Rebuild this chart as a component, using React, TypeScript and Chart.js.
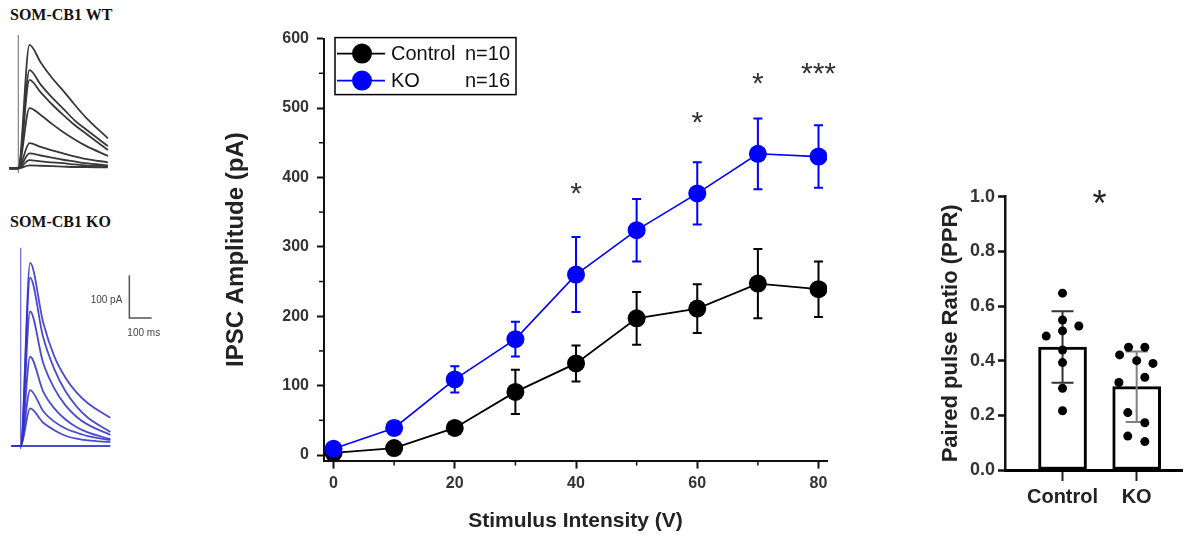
import React, { useEffect, useRef } from 'react';
import { Chart, registerables } from 'chart.js';

Chart.register(...registerables);

const FONT = '"Liberation Sans", Arial, Helvetica, sans-serif';

// ---------- Input/output curve (IPSC amplitude) ----------
const stimulus = [0, 10, 20, 30, 40, 50, 60, 70, 80];
const controlMean = [3, 10, 39, 91, 132, 197, 211, 247, 239];
const controlSem = [3, 6, 8, 32, 26, 38, 35, 50, 40];
const koMean = [9, 39, 109, 167, 260, 324, 377, 434, 430];
const koSem = [5, 10, 19, 25, 54, 45, 45, 51, 45];
const seriesNames = ['Control', 'KO'];
const seriesN = ['n=10', 'n=16'];
const amplitudeTicks = [0, 100, 200, 300, 400, 500, 600];
const stimulusTicks = [0, 20, 40, 60, 80];
const starX = [40, 60, 70, 80];
const starY = [383, 485, 541, 556];
const starText = ['*', '*', '*', '***'];

// ---------- Paired pulse ratio ----------
const groupLabels = ['Control', 'KO'];
const pprMean = [0.45, 0.305];
const pprSd = [0.131, 0.129];
const pprTicks = [0, 0.2, 0.4, 0.6, 0.8, 1.0];
const pprControlDots = [0.647, 0.549, 0.527, 0.509, 0.49, 0.439, 0.393, 0.299, 0.217];
const pprControlJitter = [0, 0, 0.22, 0, -0.22, 0, 0, 0, 0];
const pprKoDots = [0.421, 0.449, 0.449, 0.4, 0.39, 0.32, 0.339, 0.21, 0.173, 0.124, 0.104];
const pprKoJitter = [-0.23, -0.11, 0.11, 0, 0.22, -0.24, 0.11, -0.12, 0.11, -0.12, 0.11];
const pprStar = '*';

// ---------- Example traces (time in ms, current in pA) ----------
const wtTimes = [-40, 0, 50, 100, 150, 200, 250, 300, 400];
const wtTraces = [
  [0, 0, 289, 248, 212, 182, 150, 120, 70],
  [0, 0, 230, 196, 166, 140, 113, 92, 52],
  [0, 0, 207, 178, 150, 125, 102, 82, 43],
  [0, 0, 141, 125, 104, 85, 68, 53, 29],
  [0, 0, 59, 50, 42, 35, 28, 22, 14],
  [0, 0, 35, 30, 25, 20, 16, 12, 7],
  [0, 0, 19, 16, 14, 12, 9, 7, 5],
  [0, 0, 7, 6, 5, 4, 3, 3, 2],
];
const wtArtifact = [-11, 312];
const koTimes = [-40, 0, 42, 100, 150, 200, 250, 300, 400];
const koTraces = [
  [0, 0, 429, 290, 210, 160, 125, 100, 66],
  [0, 0, 394, 255, 180, 128, 92, 66, 33],
  [0, 0, 315, 195, 135, 95, 68, 50, 26],
  [0, 0, 209, 128, 88, 62, 44, 32, 16],
  [0, 0, 131, 82, 57, 41, 31, 23, 14],
  [0, 0, 88, 55, 37, 24, 17, 13, 9],
  [0, 0, 0, 0, 0, 0, 0, 0, 0],
];
const koArtifact = [-7, 464];
const scaleBarOrigin = [485, 300]; // [ms, pA]
const scaleBarSize = [100, 100]; // [ms, pA]
const scaleBarLabels = ['100 pA', '100 ms'];

type TraceProps = {
  left: number; top: number; width: number; height: number;
  xRange: number[]; yRange: number[];
  times: number[]; traces: number[][]; artifact: number[];
  color: string; artifactColor: string; scaleBar?: boolean;
};

function TraceChart(p: TraceProps) {
  const ref = useRef<HTMLCanvasElement>(null);
  useEffect(() => {
    const datasets: any[] = p.traces.map((tr) => ({
      data: p.times.map((t, i) => ({ x: t, y: tr[i] })),
      borderColor: p.color,
      borderWidth: 1.8,
      pointRadius: 0,
      cubicInterpolationMode: 'monotone',
      fill: false,
    }));
    datasets.push({
      data: [{ x: 0, y: p.artifact[0] }, { x: 0, y: p.artifact[1] }],
      borderColor: p.artifactColor,
      borderWidth: 1.1,
      pointRadius: 0,
      fill: false,
    });
    const scaleBarPlugin = {
      id: 'scaleBar',
      afterDraw(chart: any) {
        if (!p.scaleBar) return;
        const { ctx } = chart;
        const xs = chart.scales.x, ys = chart.scales.y;
        const x0 = xs.getPixelForValue(scaleBarOrigin[0]);
        const x1 = xs.getPixelForValue(scaleBarOrigin[0] + scaleBarSize[0]);
        const y0 = ys.getPixelForValue(scaleBarOrigin[1]);
        const y1 = ys.getPixelForValue(scaleBarOrigin[1] + scaleBarSize[1]);
        ctx.save();
        ctx.strokeStyle = '#555';
        ctx.lineWidth = 1.5;
        ctx.beginPath();
        ctx.moveTo(x0, y1);
        ctx.lineTo(x0, y0);
        ctx.lineTo(x1, y0);
        ctx.stroke();
        ctx.fillStyle = '#444';
        ctx.font = `10px ${FONT}`;
        ctx.textBaseline = 'middle';
        ctx.textAlign = 'right';
        ctx.fillText(scaleBarLabels[0], x0 - 7, (y0 + y1) / 2 + 4);
        ctx.textAlign = 'left';
        ctx.fillText(scaleBarLabels[1], x0 - 2, y0 + 15);
        ctx.restore();
      },
    };
    const chart = new Chart(ref.current!, {
      type: 'line',
      data: { datasets },
      options: {
        animation: false,
        responsive: false,
        layout: { padding: 0 },
        plugins: { legend: { display: false }, tooltip: { enabled: false } },
        scales: {
          x: { type: 'linear', display: false, min: p.xRange[0], max: p.xRange[1] },
          y: { type: 'linear', display: false, min: p.yRange[0], max: p.yRange[1] },
        },
      } as any,
      plugins: [scaleBarPlugin],
    });
    return () => chart.destroy();
  }, []);
  return (
    <canvas
      ref={ref}
      width={p.width}
      height={p.height}
      style={{ position: 'absolute', left: p.left, top: p.top, width: p.width, height: p.height }}
    />
  );
}

function AmplitudeChart() {
  const ref = useRef<HTMLCanvasElement>(null);
  useEffect(() => {
    const semArrays = [controlSem, koSem];
    const errorBars = {
      id: 'errorBars',
      beforeDatasetsDraw(chart: any) {
        const { ctx } = chart;
        const xs = chart.scales.x, ys = chart.scales.y;
        chart.data.datasets.forEach((ds: any, i: number) => {
          const means = i === 0 ? controlMean : koMean;
          const sems = semArrays[i];
          ctx.save();
          ctx.strokeStyle = ds.borderColor;
          ctx.lineWidth = 2;
          stimulus.forEach((s, j) => {
            const x = xs.getPixelForValue(s);
            const yt = ys.getPixelForValue(means[j] + sems[j]);
            const yb = ys.getPixelForValue(means[j] - sems[j]);
            ctx.beginPath();
            ctx.moveTo(x, yt); ctx.lineTo(x, yb);
            ctx.moveTo(x - 4.5, yt); ctx.lineTo(x + 4.5, yt);
            ctx.moveTo(x - 4.5, yb); ctx.lineTo(x + 4.5, yb);
            ctx.stroke();
          });
          ctx.restore();
        });
      },
    };
    const extras = {
      id: 'extras',
      afterDraw(chart: any) {
        const { ctx, chartArea: ca } = chart;
        const xs = chart.scales.x, ys = chart.scales.y;
        ctx.save();
        // minor ticks
        ctx.strokeStyle = '#111';
        ctx.lineWidth = 1.5;
        for (let k = 0; k < xs.ticks.length - 1; k++) {
          const px = xs.getPixelForValue((xs.ticks[k].value + xs.ticks[k + 1].value) / 2);
          ctx.beginPath(); ctx.moveTo(px, ca.bottom); ctx.lineTo(px, ca.bottom + 5); ctx.stroke();
        }
        for (let k = 0; k < ys.ticks.length - 1; k++) {
          const py = ys.getPixelForValue((ys.ticks[k].value + ys.ticks[k + 1].value) / 2);
          ctx.beginPath(); ctx.moveTo(ca.left - 5, py); ctx.lineTo(ca.left, py); ctx.stroke();
        }
        // significance stars
        ctx.fillStyle = '#333';
        const fs = 30;
        ctx.font = `${fs}px ${FONT}`;
        ctx.textAlign = 'center';
        ctx.textBaseline = 'alphabetic';
        starX.forEach((sx, i) => {
          ctx.fillText(starText[i], xs.getPixelForValue(sx), ys.getPixelForValue(starY[i]) + 0.45 * fs);
        });
        // legend
        const bx = ca.left + 11, by = ca.top - 1, bw = 181, bh = 57;
        ctx.strokeStyle = '#000';
        ctx.lineWidth = 1.5;
        ctx.strokeRect(bx, by, bw, bh);
        chart.data.datasets.forEach((ds: any, i: number) => {
          const ry = by + 16 + i * 27;
          ctx.strokeStyle = ds.borderColor;
          ctx.lineWidth = 1.8;
          ctx.beginPath(); ctx.moveTo(bx + 2, ry); ctx.lineTo(bx + 50, ry); ctx.stroke();
          ctx.fillStyle = ds.backgroundColor;
          ctx.beginPath(); ctx.arc(bx + 27, ry, 10, 0, Math.PI * 2); ctx.fill();
          ctx.fillStyle = '#111';
          ctx.font = `20px ${FONT}`;
          ctx.textAlign = 'left';
          ctx.textBaseline = 'middle';
          ctx.fillText(seriesNames[i], bx + 56, ry + 1);
          ctx.fillText(seriesN[i], bx + 130, ry + 1);
        });
        ctx.restore();
      },
    };
    const chart = new Chart(ref.current!, {
      type: 'line',
      data: {
        datasets: [
          {
            label: seriesNames[0],
            data: stimulus.map((x, i) => ({ x, y: controlMean[i] })),
            borderColor: '#000000',
            backgroundColor: '#000000',
            borderWidth: 1.8,
            pointRadius: 9,
            pointBorderWidth: 0,
            pointBackgroundColor: '#000000',
            order: 1,
          },
          {
            label: seriesNames[1],
            data: stimulus.map((x, i) => ({ x, y: koMean[i] })),
            borderColor: '#0000ff',
            backgroundColor: '#0000ff',
            borderWidth: 1.6,
            pointRadius: 9,
            pointBorderWidth: 0,
            pointBackgroundColor: '#0000ff',
            order: 0,
          },
        ],
      },
      options: {
        animation: false,
        responsive: false,
        layout: { padding: { top: 13.3, right: 33, left: 0, bottom: 0 } },
        plugins: { legend: { display: false }, tooltip: { enabled: false } },
        scales: {
          x: {
            type: 'linear',
            min: -1.57,
            max: 81.4,
            afterFit: (s: any) => { s.height = 75.4; },
            afterBuildTicks: (s: any) => { s.ticks = stimulusTicks.map((v) => ({ value: v })); },
            border: { color: '#111', width: 2 },
            grid: { drawOnChartArea: false, tickLength: 8, tickWidth: 2, tickColor: '#111' },
            ticks: { maxRotation: 0, autoSkip: false, font: { family: FONT, size: 16, weight: 'bold' }, color: '#333', padding: 5 },
            title: { display: true, text: 'Stimulus Intensity (V)', font: { family: FONT, size: 21, weight: 'bold' }, color: '#222', padding: { top: 2, bottom: 2 } },
          },
          y: {
            type: 'linear',
            min: -8,
            max: 600,
            afterFit: (s: any) => { s.width = 106; },
            afterBuildTicks: (s: any) => { s.ticks = amplitudeTicks.map((v) => ({ value: v })); },
            border: { color: '#111', width: 2 },
            grid: { drawOnChartArea: false, tickLength: 7, tickWidth: 2, tickColor: '#111' },
            ticks: { autoSkip: false, font: { family: FONT, size: 16, weight: 'bold' }, color: '#333', padding: 8 },
            title: { display: true, text: 'IPSC Amplitude (pA)', font: { family: FONT, size: 24, weight: 'bold' }, color: '#222', padding: { top: 4, bottom: 4 } },
          },
        },
      } as any,
      plugins: [errorBars, extras],
    });
    return () => chart.destroy();
  }, []);
  return (
    <canvas ref={ref} width={642} height={515}
      style={{ position: 'absolute', left: 218, top: 21, width: 642, height: 515 }} />
  );
}

function PprChart() {
  const ref = useRef<HTMLCanvasElement>(null);
  useEffect(() => {
    const errColors = ['#333333', '#808080'];
    const errPlugin = {
      id: 'pprErr',
      afterDatasetDraw(chart: any, args: any) {
        if (args.index !== 0) return;
        const { ctx } = chart;
        const xs = chart.scales.x, ys = chart.scales.y;
        ctx.save();
        ctx.lineWidth = 2;
        pprMean.forEach((m, j) => {
          const x = xs.getPixelForValue(j);
          const yt = ys.getPixelForValue(m + pprSd[j]);
          const yb = ys.getPixelForValue(m - pprSd[j]);
          ctx.strokeStyle = errColors[j];
          ctx.beginPath();
          ctx.moveTo(x, yt); ctx.lineTo(x, yb);
          ctx.moveTo(x - 11, yt); ctx.lineTo(x + 11, yt);
          ctx.moveTo(x - 11, yb); ctx.lineTo(x + 11, yb);
          ctx.stroke();
        });
        ctx.restore();
      },
      afterDraw(chart: any) {
        const { ctx } = chart;
        const xs = chart.scales.x, ys = chart.scales.y;
        ctx.save();
        ctx.fillStyle = '#222';
        const fs = 36;
        ctx.font = `${fs}px ${FONT}`;
        ctx.textAlign = 'center';
        ctx.textBaseline = 'alphabetic';
        ctx.fillText(pprStar, xs.getPixelForValue(0.5), ys.getPixelForValue(0.99) + 0.45 * fs);
        ctx.restore();
      },
    };
    const dots = [
      ...pprControlDots.map((v, i) => ({ x: 0 + pprControlJitter[i], y: v })),
      ...pprKoDots.map((v, i) => ({ x: 1 + pprKoJitter[i], y: v })),
    ];
    const chart = new Chart(ref.current!, {
      type: 'bar',
      data: {
        datasets: [
          {
            type: 'bar',
            data: pprMean.map((m, i) => ({ x: i, y: m })),
            backgroundColor: '#ffffff',
            borderColor: '#000000',
            borderWidth: 3,
            borderSkipped: false,
            barThickness: 48,
            order: 1,
          },
          {
            type: 'scatter',
            data: dots,
            backgroundColor: '#000000',
            borderWidth: 0,
            pointRadius: 4.5,
            order: 0,
          },
        ],
      },
      options: {
        animation: false,
        responsive: false,
        layout: { padding: { top: 26.7, right: 0, left: 0, bottom: 0 } },
        plugins: { legend: { display: false }, tooltip: { enabled: false } },
        scales: {
          x: {
            type: 'linear',
            min: -0.776,
            max: 1.618,
            offset: false,
            afterFit: (s: any) => { s.height = 50; },
            afterBuildTicks: (s: any) => { s.ticks = groupLabels.map((_, i) => ({ value: i })); },
            border: { color: '#000', width: 3 },
            grid: { offset: false, drawOnChartArea: false, tickLength: 11, tickWidth: 2, tickColor: '#222' },
            ticks: {
              callback: (_v: any, i: number) => groupLabels[i],
              font: { family: FONT, size: 20, weight: 'bold' }, color: '#222', padding: 4, maxRotation: 0,
            },
          },
          y: {
            type: 'linear',
            min: 0,
            max: 1,
            afterFit: (s: any) => { s.width = 69; },
            afterBuildTicks: (s: any) => { s.ticks = pprTicks.map((v) => ({ value: v })); },
            border: { color: '#111', width: 2.5 },
            grid: { drawOnChartArea: false, tickLength: 7, tickWidth: 2.5, tickColor: '#111' },
            ticks: {
              callback: (v: any) => Number(v).toFixed(1),
              font: { family: FONT, size: 18, weight: 'bold' }, color: '#333', padding: 3,
            },
            title: { display: true, text: 'Paired pulse Ratio (PPR)', font: { family: FONT, size: 22, weight: 'bold' }, color: '#222', padding: { top: 2, bottom: 2 } },
          },
        },
      } as any,
      plugins: [errPlugin],
    });
    return () => chart.destroy();
  }, []);
  return (
    <canvas ref={ref} width={251} height={350}
      style={{ position: 'absolute', left: 936, top: 170, width: 251, height: 350 }} />
  );
}

const headingStyle: React.CSSProperties = {
  position: 'absolute',
  left: 10,
  fontFamily: '"Liberation Serif", "Times New Roman", serif',
  fontWeight: 'bold',
  fontSize: 16,
  lineHeight: '16px',
  color: '#111',
  whiteSpace: 'nowrap',
};

export default function App() {
  return (
    <div style={{ position: 'absolute', left: 0, top: 0, width: 1187, height: 536, overflow: 'hidden', background: '#fff' }}>
      <div style={{ ...headingStyle, top: 7 }}>SOM-CB1 WT</div>
      <div style={{ ...headingStyle, top: 214 }}>SOM-CB1 KO</div>
      <TraceChart left={0} top={28} width={120} height={152}
        xRange={[-81.7, 454]} yRange={[-27.4, 328.6]}
        times={wtTimes} traces={wtTraces} artifact={wtArtifact}
        color="#383838" artifactColor="#777777" />
      <TraceChart left={0} top={240} width={170} height={222}
        xRange={[-92.4, 666.5]} yRange={[-37.5, 482.4]}
        times={koTimes} traces={koTraces} artifact={koArtifact}
        color="rgba(50,50,200,0.88)" artifactColor="rgba(60,60,200,0.85)" scaleBar />
      <AmplitudeChart />
      <PprChart />
    </div>
  );
}
